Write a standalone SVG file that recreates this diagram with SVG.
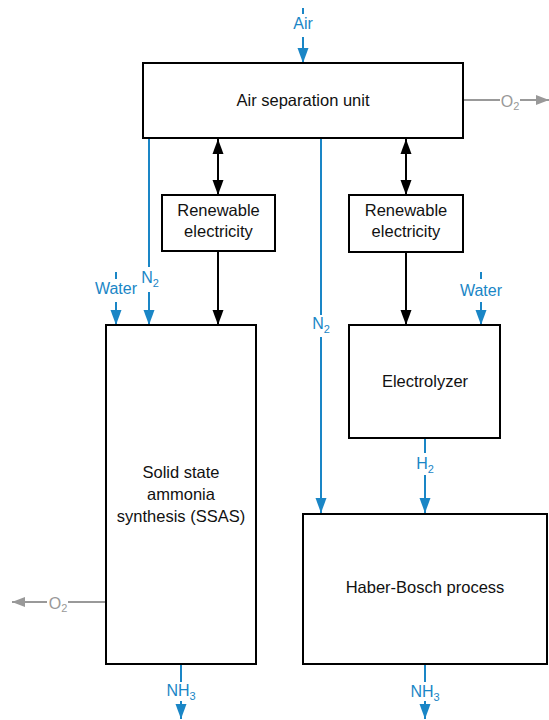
<svg xmlns="http://www.w3.org/2000/svg" width="549" height="720" viewBox="0 0 549 720">
<defs>
<style>
.box{fill:#fff;stroke:#000;stroke-width:2}
.nt{font-family:"Liberation Sans",Arial,sans-serif;font-size:16.5px;fill:#111;text-anchor:middle}
.bl{stroke:#1a86c6;stroke-width:2;fill:none}
.bk{stroke:#000;stroke-width:2;fill:none}
.gr{stroke:#999;stroke-width:2;fill:none}
.lb{font-family:"Liberation Sans",Arial,sans-serif;font-size:16px;fill:#1a86c6;text-anchor:middle}
.lg{font-family:"Liberation Sans",Arial,sans-serif;font-size:16px;fill:#999;text-anchor:middle}
.sub{font-size:11px}
</style>
<marker id="ab" markerUnits="userSpaceOnUse" markerWidth="16" markerHeight="12" refX="15" refY="6" orient="auto"><path d="M0,0.5 L15,6 L0,11.5 z" fill="#1a86c6"/></marker>
<marker id="ak" markerUnits="userSpaceOnUse" markerWidth="16" markerHeight="12" refX="15" refY="6" orient="auto-start-reverse"><path d="M0,0.5 L15,6 L0,11.5 z" fill="#000"/></marker>
<marker id="ag" markerUnits="userSpaceOnUse" markerWidth="14" markerHeight="12" refX="13" refY="6" orient="auto"><path d="M0,1 L13,6 L0,11 z" fill="#999"/></marker>
</defs>

<g id="connectors">
<!-- Air in -->
<line class="bl" x1="303" y1="8" x2="303" y2="14"/>
<line class="bl" x1="303" y1="37" x2="303" y2="63" marker-end="url(#ab)"/>
<!-- O2 right -->
<line class="gr" x1="464" y1="100" x2="500" y2="100"/>
<line class="gr" x1="520" y1="100" x2="549" y2="100" marker-end="url(#ag)"/>
<!-- N2 left -->
<line class="bl" x1="149" y1="139" x2="149" y2="267"/>
<line class="bl" x1="149" y1="292" x2="149" y2="325" marker-end="url(#ab)"/>
<!-- Water left -->
<line class="bl" x1="116" y1="272" x2="116" y2="279"/>
<line class="bl" x1="116" y1="302" x2="116" y2="325" marker-end="url(#ab)"/>
<!-- double arrows -->
<line class="bk" x1="218" y1="139" x2="218" y2="195" marker-start="url(#ak)" marker-end="url(#ak)"/>
<line class="bk" x1="406" y1="139" x2="406" y2="195" marker-start="url(#ak)" marker-end="url(#ak)"/>
<!-- electricity down -->
<line class="bk" x1="218" y1="252" x2="218" y2="325" marker-end="url(#ak)"/>
<line class="bk" x1="406" y1="253" x2="406" y2="325" marker-end="url(#ak)"/>
<!-- Water right -->
<line class="bl" x1="481" y1="272" x2="481" y2="279"/>
<line class="bl" x1="481" y1="302" x2="481" y2="325" marker-end="url(#ab)"/>
<!-- N2 middle -->
<line class="bl" x1="321" y1="139" x2="321" y2="315"/>
<line class="bl" x1="321" y1="337" x2="321" y2="513" marker-end="url(#ab)"/>
<!-- H2 -->
<line class="bl" x1="425" y1="439" x2="425" y2="453"/>
<line class="bl" x1="425" y1="475" x2="425" y2="513" marker-end="url(#ab)"/>
<!-- O2 left -->
<line class="gr" x1="105" y1="602" x2="68" y2="602"/>
<line class="gr" x1="47" y1="602" x2="12" y2="602" marker-end="url(#ag)"/>
<!-- NH3 left -->
<line class="bl" x1="181" y1="665" x2="181" y2="682"/>
<line class="bl" x1="181" y1="701" x2="181" y2="719" marker-end="url(#ab)"/>
<!-- NH3 right -->
<line class="bl" x1="425" y1="665" x2="425" y2="682"/>
<line class="bl" x1="425" y1="701" x2="425" y2="719" marker-end="url(#ab)"/>
</g>

<g id="labels">
<text class="lb" x="303" y="29">Air</text>
<text class="lg" x="510" y="107">O<tspan class="sub" dy="3">2</tspan></text>
<text class="lb" x="150" y="283">N<tspan class="sub" dy="4">2</tspan></text>
<text class="lb" x="116" y="294">Water</text>
<text class="lb" x="481" y="296">Water</text>
<text class="lb" x="321" y="329">N<tspan class="sub" dy="4">2</tspan></text>
<text class="lb" x="425" y="469">H<tspan class="sub" dy="4">2</tspan></text>
<text class="lg" x="58" y="609">O<tspan class="sub" dy="3">2</tspan></text>
<text class="lb" x="181" y="696">NH<tspan class="sub" dy="4">3</tspan></text>
<text class="lb" x="425" y="697">NH<tspan class="sub" dy="4">3</tspan></text>
</g>

<g id="asu">
<rect class="box" x="143" y="63" width="320" height="75"/>
<text class="nt" x="303" y="106">Air separation unit</text>
</g>
<g id="renewable-left">
<rect class="box" x="162" y="195" width="113" height="56"/>
<text class="nt" x="218.5" y="216">Renewable</text>
<text class="nt" x="218.5" y="237">electricity</text>
</g>
<g id="renewable-right">
<rect class="box" x="349" y="195" width="114" height="57"/>
<text class="nt" x="406" y="216">Renewable</text>
<text class="nt" x="406" y="237">electricity</text>
</g>
<g id="ssas">
<rect class="box" x="106" y="325" width="150" height="339"/>
<text class="nt" x="181" y="478">Solid state</text>
<text class="nt" x="181" y="500">ammonia</text>
<text class="nt" x="181" y="522">synthesis (SSAS)</text>
</g>
<g id="electrolyzer">
<rect class="box" x="349" y="325" width="151" height="113"/>
<text class="nt" x="425" y="387">Electrolyzer</text>
</g>
<g id="haber-bosch">
<rect class="box" x="303" y="514" width="244" height="150"/>
<text class="nt" x="425" y="593">Haber-Bosch process</text>
</g>
</svg>
